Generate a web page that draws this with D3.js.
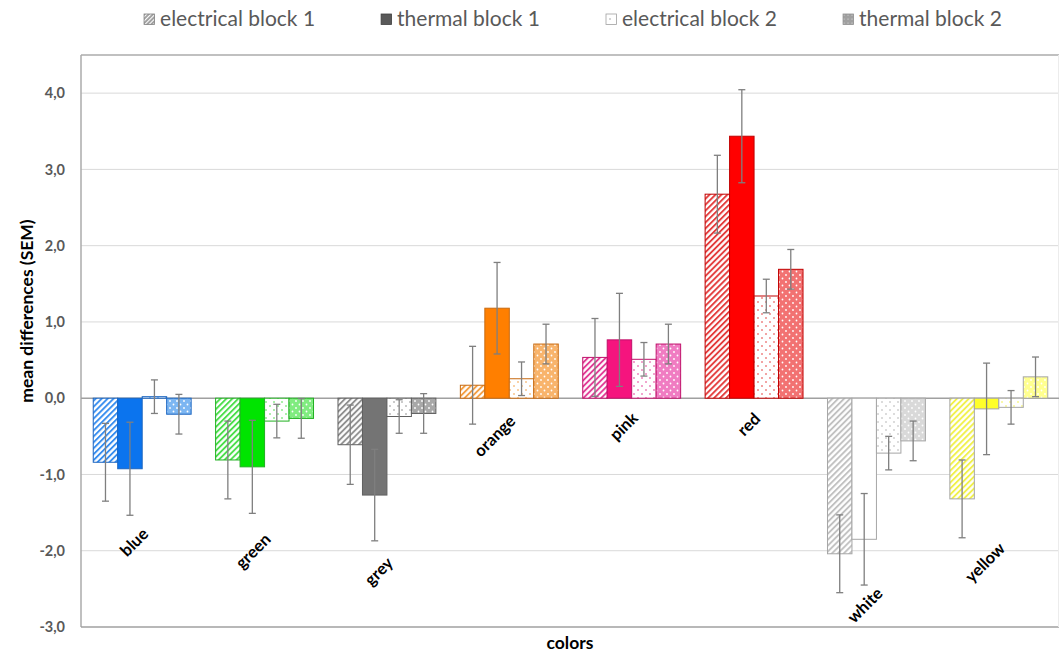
<!DOCTYPE html>
<html>
<head>
<meta charset="utf-8">
<script src="https://cdn.jsdelivr.net/npm/d3@7"></script>
<style>
  html, body { margin: 0; padding: 0; background: #fff; }
  svg { display: block; font-family: Lato, "Open Sans", sans-serif; }
</style>
</head>
<body>
<script>
// ---------- data ----------
const categories = ["blue", "green", "grey", "orange", "pink", "red", "white", "yellow"];
const seriesNames = ["electrical block 1", "thermal block 1", "electrical block 2", "thermal block 2"];

const electrical1 = [-0.84, -0.81, -0.61, 0.17, 0.535, 2.675, -2.04, -1.32];
const thermal1    = [-0.925, -0.90, -1.27, 1.18, 0.765, 3.435, -1.85, -0.14];
const electrical2 = [0.02, -0.30, -0.24, 0.255, 0.51, 1.34, -0.72, -0.12];
const thermal2    = [-0.21, -0.265, -0.20, 0.71, 0.71, 1.69, -0.56, 0.28];

const electrical1Sem = [0.51, 0.51, 0.52, 0.51, 0.51, 0.51, 0.51, 0.51];
const thermal1Sem    = [0.61, 0.61, 0.60, 0.60, 0.61, 0.61, 0.60, 0.60];
const electrical2Sem = [0.22, 0.22, 0.22, 0.22, 0.22, 0.22, 0.22, 0.22];
const thermal2Sem    = [0.26, 0.26, 0.26, 0.26, 0.26, 0.26, 0.26, 0.26];

const yTicks = [-3, -2, -1, 0, 1, 2, 3, 4];
const yTickLabels = ["-3,0", "-2,0", "-1,0", "0,0", "1,0", "2,0", "3,0", "4,0"];

// where (in data units) each rotated category label ends
const categoryLabelAt = [-1.70, -1.77, -2.08, -0.22, -0.18, -0.19, -2.48, -1.89];

// ---------- styles ----------
const baseColors   = ["#0b74ee", "#00e400", "#747474", "#ff7f00", "#f5147e", "#ff0000", "#ffffff", "#ffff2a"];
const lightColors  = ["#7cb6f2", "#80ec80", "#a8a8a8", "#f8b46c", "#f07cc2", "#f27272", "#d9d9d9", "#ffff90"];
const hatchColors  = ["#2a86ee", "#3fdc3f", "#8a8a8a", "#f39a3a", "#e0308f", "#e23030", "#bdbdbd", "#f0f040"];
const strokeColors = ["#1a64c0", "#20b020", "#606060", "#c86a10", "#c0106a", "#c00000", "#a6a6a6", "#a6a6a6"];

const valuesBySeries = [electrical1, thermal1, electrical2, thermal2];
const semBySeries = [electrical1Sem, thermal1Sem, electrical2Sem, thermal2Sem];

const W = 1059, H = 652;
const plotL = 81, plotR = 1060, plotT = 55, plotB = 627;

const svg = d3.select("body").append("svg").attr("width", W).attr("height", H);

const x = d3.scaleBand().domain(categories).range([plotL, plotR]).paddingInner(0).paddingOuter(0);
const xs = d3.scaleBand().domain(seriesNames)
  .range([x.bandwidth() * 0.1, x.bandwidth() * 0.9]).paddingInner(0).paddingOuter(0);
const y = d3.scaleLinear().domain([-3, 4.5]).range([plotB, plotT]);

// ---------- patterns ----------
const defs = svg.append("defs");
categories.forEach((c, i) => {
  const ph = defs.append("pattern").attr("id", "hatch-" + i)
    .attr("patternUnits", "userSpaceOnUse").attr("width", 4.2).attr("height", 4.2)
    .attr("patternTransform", "rotate(45)");
  ph.append("rect").attr("width", 4.2).attr("height", 4.2).attr("fill", "#fff");
  ph.append("line").attr("x1", 1).attr("x2", 1).attr("y1", 0).attr("y2", 4.2)
    .attr("stroke", hatchColors[i]).attr("stroke-width", 1.8);
  const pd = defs.append("pattern").attr("id", "dots-" + i)
    .attr("patternUnits", "userSpaceOnUse").attr("width", 8).attr("height", 8);
  pd.append("rect").attr("width", 8).attr("height", 8).attr("fill", "#fff");
  const dc = i === 6 ? "#b0b0b0" : hatchColors[i];
  pd.append("circle").attr("cx", 2).attr("cy", 2).attr("r", 0.8).attr("fill", dc);
  pd.append("circle").attr("cx", 6).attr("cy", 6).attr("r", 0.8).attr("fill", dc);
  const pt = defs.append("pattern").attr("id", "wdots-" + i)
    .attr("patternUnits", "userSpaceOnUse").attr("width", 7).attr("height", 7);
  pt.append("rect").attr("width", 7).attr("height", 7).attr("fill", lightColors[i]);
  pt.append("circle").attr("cx", 2).attr("cy", 2).attr("r", 0.9).attr("fill", "#fff");
  pt.append("circle").attr("cx", 5.5).attr("cy", 5.5).attr("r", 0.9).attr("fill", "#fff");
});
{
  const ph = defs.append("pattern").attr("id", "lg-hatch")
    .attr("patternUnits", "userSpaceOnUse").attr("width", 3).attr("height", 3)
    .attr("patternTransform", "rotate(45)");
  ph.append("rect").attr("width", 3).attr("height", 3).attr("fill", "#fff");
  ph.append("line").attr("x1", 1).attr("x2", 1).attr("y1", 0).attr("y2", 3)
    .attr("stroke", "#707070").attr("stroke-width", 1.3);
  const pt = defs.append("pattern").attr("id", "lg-wdots")
    .attr("patternUnits", "userSpaceOnUse").attr("width", 4).attr("height", 4);
  pt.append("rect").attr("width", 4).attr("height", 4).attr("fill", "#a0a0a0");
  pt.append("circle").attr("cx", 1).attr("cy", 1).attr("r", 0.6).attr("fill", "#e8e8e8");
}

function fillFor(s, i) {
  if (s === 0) return "url(#hatch-" + i + ")";
  if (s === 1) return baseColors[i];
  if (s === 2) return "url(#dots-" + i + ")";
  return "url(#wdots-" + i + ")";
}

// ---------- gridlines ----------
svg.append("g").selectAll("line").data(yTicks.filter(t => t !== -3 && t !== 0)).join("line")
  .attr("x1", plotL).attr("x2", plotR)
  .attr("y1", d => y(d)).attr("y2", d => y(d))
  .attr("stroke", "#d9d9d9").attr("stroke-width", 1);

svg.append("line").attr("x1", plotL).attr("x2", plotR).attr("y1", plotT).attr("y2", plotT)
  .attr("stroke", "#ababab").attr("stroke-width", 1.5);
svg.append("line").attr("x1", plotL).attr("x2", plotL).attr("y1", plotT).attr("y2", plotB)
  .attr("stroke", "#ababab").attr("stroke-width", 1.5);
svg.append("line").attr("x1", plotL).attr("x2", plotR).attr("y1", plotB).attr("y2", plotB)
  .attr("stroke", "#a0a0a0").attr("stroke-width", 1.5);
svg.append("line").attr("x1", plotR - 1.5).attr("x2", plotR - 1.5).attr("y1", plotT).attr("y2", plotB)
  .attr("stroke", "#ececec").attr("stroke-width", 1);

svg.append("line").attr("x1", plotL).attr("x2", plotR).attr("y1", y(0)).attr("y2", y(0))
  .attr("stroke", "#a0a0a0").attr("stroke-width", 1.5);

// ---------- y axis ----------
const yAxis = d3.axisLeft(y).tickValues(yTicks).tickFormat((d, i) => yTickLabels[i])
  .tickSize(0).tickPadding(16);
const gy = svg.append("g").attr("transform", `translate(${plotL},0)`).call(yAxis);
gy.select(".domain").remove();
gy.selectAll("text").attr("font-family", "Lato, sans-serif").attr("font-size", 14.5)
  .attr("font-weight", "bold").attr("fill", "#595959");

// ---------- bars ----------
const barData = [];
categories.forEach((c, i) => {
  seriesNames.forEach((s, k) => {
    barData.push({ cat: c, i, s: k, name: s, v: valuesBySeries[k][i], e: semBySeries[k][i] });
  });
});

svg.append("g").selectAll("rect").data(barData).join("rect")
  .attr("x", d => x(d.cat) + xs(d.name))
  .attr("width", xs.bandwidth())
  .attr("y", d => Math.min(y(d.v), y(0)))
  .attr("height", d => Math.abs(y(d.v) - y(0)))
  .attr("fill", d => fillFor(d.s, d.i))
  .attr("stroke", d => strokeColors[d.i])
  .attr("stroke-width", 1);

// ---------- error bars ----------
const eb = svg.append("g").attr("stroke", "#7f7f7f").attr("stroke-width", 1.3);
const cx = d => x(d.cat) + xs(d.name) + xs.bandwidth() / 2;
eb.selectAll("line.v").data(barData).join("line").attr("class", "v")
  .attr("x1", cx).attr("x2", cx)
  .attr("y1", d => y(d.v - d.e)).attr("y2", d => y(d.v + d.e));
eb.selectAll("line.t").data(barData).join("line").attr("class", "t")
  .attr("x1", d => cx(d) - 3.5).attr("x2", d => cx(d) + 3.5)
  .attr("y1", d => y(d.v + d.e)).attr("y2", d => y(d.v + d.e));
eb.selectAll("line.b").data(barData).join("line").attr("class", "b")
  .attr("x1", d => cx(d) - 3.5).attr("x2", d => cx(d) + 3.5)
  .attr("y1", d => y(d.v - d.e)).attr("y2", d => y(d.v - d.e));

// ---------- category labels ----------
svg.append("g").selectAll("text").data(categories).join("text")
  .attr("transform", (d, i) => `translate(${x(d) + x.bandwidth() / 2},${y(categoryLabelAt[i])}) rotate(-45)`)
  .attr("text-anchor", "end").attr("dy", "0.62em")
  .attr("font-family", "Lato, sans-serif").attr("font-size", 16.5).attr("font-weight", "bold")
  .attr("fill", "#000").text(d => d);

// ---------- axis titles ----------
svg.append("text").attr("transform", `translate(33,311) rotate(-90)`)
  .attr("text-anchor", "middle").attr("font-family", "Lato, sans-serif")
  .attr("font-size", 17.5).attr("font-weight", "bold").attr("fill", "#000")
  .text("mean differences (SEM)");
svg.append("text").attr("x", 570).attr("y", 649)
  .attr("text-anchor", "middle").attr("font-family", "Lato, sans-serif")
  .attr("font-size", 17.5).attr("font-weight", "bold").attr("fill", "#000")
  .text("colors");

// ---------- legend ----------
const legendFills = ["url(#lg-hatch)", "#595959", "#ffffff", "url(#lg-wdots)"];
const legendStrokes = ["#808080", "#404040", "#a0a0a0", "#909090"];
const lg = svg.append("g");
const items = seriesNames.map((n, k) => {
  const g = lg.append("g");
  g.append("rect").attr("x", 0).attr("y", -12).attr("width", 10.5).attr("height", 10.5)
    .attr("fill", legendFills[k]).attr("stroke", legendStrokes[k]).attr("stroke-width", 0.8);
  if (k === 2) g.append("circle").attr("cx", 4).attr("cy", -7).attr("r", 0.7).attr("fill", "#888");
  const t = g.append("text").attr("x", 16).attr("y", 0)
    .attr("font-family", "Lato, sans-serif").attr("font-size", 21).attr("fill", "#595959").text(n);
  return { g, w: 16 + t.node().getComputedTextLength() };
});
const gap = 66;
const total = d3.sum(items, d => d.w) + gap * (items.length - 1);
let lx = 573 - total / 2;
items.forEach(it => { it.g.attr("transform", `translate(${lx},26)`); lx += it.w + gap; });
</script>
</body>
</html>
